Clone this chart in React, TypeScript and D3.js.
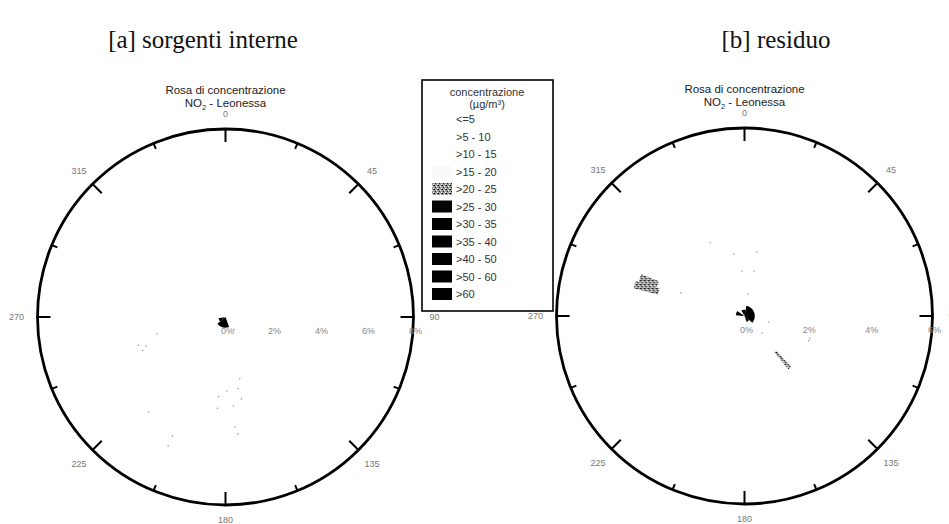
import React from 'react';
import * as d3 from 'd3';

// concentration classes (µg/m³)
const classLabels = ['<=5', '>5 - 10', '>10 - 15', '>15 - 20', '>20 - 25', '>25 - 30', '>30 - 35', '>35 - 40', '>40 - 50', '>50 - 60', '>60'];
const classFills = ['#ffffff', '#ffffff', '#ffffff', '#fafafa', 'url(#speckle)', '#050505', '#030303', '#020202', '#010101', '#000000', '#000000'];

const angleTicks = d3.range(0, 360, 22.5);
const angleLabels = [0, 45, 90, 135, 180, 225, 270, 315];

const leftPct = [0, 2, 4, 6, 8];
const rightPct = [0, 2, 4, 6];

// cells: [direction°, sector width°, from %, to %, class]
const leftCells: [number, number, number, number, number][] = [
  [195, 70, 0, 0.45, 9],
  [245, 30, 0.05, 0.3, 8],
];
const rightCells: [number, number, number, number, number][] = [
  [70, 120, 0, 0.33, 10],
  [145, 30, 0, 0.2, 10],
  [350, 40, 0, 0.2, 10],
  [290, 30, 0.03, 0.28, 9],
  [286, 4, 2.85, 3.65, 4],
  [290, 4, 2.95, 3.55, 4],
  [139, 3, 1.5, 2.2, 4],
];

// isolated low-frequency readings: [direction°, %]
const leftSpeckles: [number, number][] = [
  [256, 3.0], [250, 3.6], [248, 3.8], [252, 3.9], [146, 0.65], [167, 2.7],
  [179, 3.15], [170, 3.1], [185, 3.4], [169, 3.55], [175, 3.8], [185, 3.9],
  [175, 4.7], [174, 5.0], [219, 5.2], [204, 5.55], [204, 6.0],
];
const rightSpeckles: [number, number][] = [
  [350, 2.0], [11, 2.08], [357, 1.44], [12, 1.47], [9, 0.71], [104, 0.8],
  [134, 0.78], [109, 2.2], [111, 2.2], [290, 2.16], [335, 2.58],
];

const W = 949;
const H = 524;
const R = 188;
const sans = '"Liberation Sans", Arial, sans-serif';

const rad = (deg: number) => (deg * Math.PI) / 180;

interface RoseProps {
  cx: number;
  cy: number;
  pct: number[];
  cells: [number, number, number, number, number][];
  speckles: [number, number][];
}

const Rose = ({ cx, cy, pct, cells, speckles }: RoseProps) => {
  const rScale = d3.scaleLinear().domain([0, d3.max(pct) as number]).range([0, R]);
  const arc = d3.arc<[number, number, number, number, number]>()
    .startAngle(d => rad(d[0] - d[1] / 2))
    .endAngle(d => rad(d[0] + d[1] / 2))
    .innerRadius(d => rScale(d[2]))
    .outerRadius(d => rScale(d[3]));
  const pt = (deg: number, r: number): [number, number] => [r * Math.sin(rad(deg)), -r * Math.cos(rad(deg))];

  return (
    <g transform={`translate(${cx},${cy})`}>
      <text y={-R - 35} textAnchor="middle" fontFamily={sans} fontSize={11.5} fill="#222">Rosa di concentrazione</text>
      <text y={-R - 22} textAnchor="middle" fontFamily={sans} fontSize={11.5} fill="#222">
        NO<tspan fontSize={7.5} dy={3}>2</tspan><tspan dy={-3}> - Leonessa</tspan>
      </text>
      {cells.map((c, i) => (
        <path key={i} d={arc(c) || ''} fill={classFills[c[4]]} />
      ))}
      {speckles.map((s, i) => {
        const [x, y] = pt(s[0], rScale(s[1]));
        return <circle key={i} cx={x} cy={y} r={0.8} fill="#999" />;
      })}
      <circle r={R} fill="none" stroke="#000" strokeWidth={2.8} />
      {angleTicks.map(a => {
        const len = a % 45 === 0 ? 13 : 6;
        const [x1, y1] = pt(a, R);
        const [x2, y2] = pt(a, R - len);
        return <line key={a} x1={x1} y1={y1} x2={x2} y2={y2} stroke="#000" strokeWidth={2} />;
      })}
      {angleLabels.map(a => {
        const off = 15 + Math.abs(Math.sin(rad(a))) * 6;
        const [x, y] = pt(a, R + off);
        return (
          <text key={a} x={x} y={y} dy="0.35em" textAnchor="middle" fontFamily={sans} fontSize={9} fill="#777">{a}</text>
        );
      })}
      {pct.map(p => (
        <text key={p} x={rScale(p) + 2} y={17} textAnchor="middle" fontFamily={sans} fontSize={9} fill="#888">{p}%</text>
      ))}
    </g>
  );
};

const Legend = ({ x, y }: { x: number; y: number }) => {
  const rowY = d3.scaleLinear().domain([0, 1]).range([39, 56.5]);
  return (
    <g transform={`translate(${x},${y})`}>
      <rect x={0} y={0} width={131} height={231} fill="#fff" stroke="#000" strokeWidth={1.6} />
      <text x={65} y={16} textAnchor="middle" fontFamily={sans} fontSize={11} fill="#333">concentrazione</text>
      <text x={65} y={28} textAnchor="middle" fontFamily={sans} fontSize={11} fill="#333">(µg/m³)</text>
      {classLabels.map((l, i) => (
        <g key={l} transform={`translate(0,${rowY(i)})`}>
          <rect x={10} y={-6} width={20} height={12} fill={classFills[i]} />
          <text x={34} y={4} fontFamily={sans} fontSize={11} fill="#333">{l}</text>
        </g>
      ))}
    </g>
  );
};

export default function App() {
  return (
    <svg width={W} height={H} viewBox={`0 0 ${W} ${H}`} style={{ position: 'absolute', left: 0, top: 0, background: '#fff' }}>
      <defs>
        <pattern id="speckle" width={4} height={4} patternUnits="userSpaceOnUse">
          <rect width={4} height={4} fill="#9a9a9a" />
          <rect x={0} y={0} width={1} height={1} fill="#000" />
          <rect x={2} y={1} width={1} height={1} fill="#fff" />
          <rect x={1} y={2} width={1} height={1} fill="#222" />
          <rect x={3} y={3} width={1} height={1} fill="#fff" />
          <rect x={3} y={0} width={1} height={1} fill="#444" />
        </pattern>
      </defs>
      <text x={203} y={48} textAnchor="middle" fontFamily='"Liberation Serif", "Times New Roman", serif' fontSize={25} fill="#111">[a] sorgenti interne</text>
      <text x={776} y={48} textAnchor="middle" fontFamily='"Liberation Serif", "Times New Roman", serif' fontSize={25} fill="#111">[b] residuo</text>
      <Rose cx={225.5} cy={317} pct={leftPct} cells={leftCells} speckles={leftSpeckles} />
      <Rose cx={744.5} cy={316} pct={rightPct} cells={rightCells} speckles={rightSpeckles} />
      <Legend x={422} y={80} />
    </svg>
  );
}
